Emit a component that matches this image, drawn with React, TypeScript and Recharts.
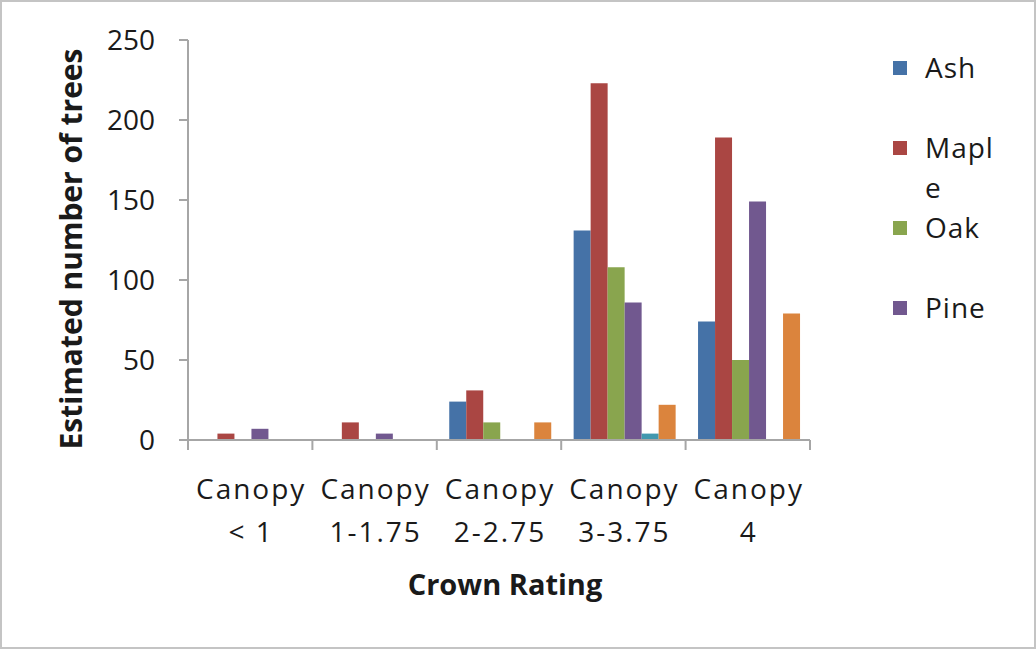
import { BarChart, Bar, XAxis, YAxis } from "recharts"

// categories and series values
const categories = ["Canopy\n< 1", "Canopy\n1-1.75", "Canopy\n2-2.75", "Canopy\n3-3.75", "Canopy\n4"]
const ash = [0, 0, 24, 131, 74]
const maple = [4, 11, 31, 223, 189]
const oak = [0, 0, 11, 108, 50]
const pine = [7, 4, 0, 86, 149]
const seriesFive = [0, 0, 0, 4, 0]
const seriesSix = [0, 0, 11, 22, 79]
const yTicks = [0, 50, 100, 150, 200, 250]

const data = categories.map((name, i) => ({
  name,
  Ash: ash[i],
  Maple: maple[i],
  Oak: oak[i],
  Pine: pine[i],
  S5: seriesFive[i],
  S6: seriesSix[i],
}))

const series = [
  { key: "Ash", color: "#4572A7" },
  { key: "Maple", color: "#AA4643" },
  { key: "Oak", color: "#89A54E" },
  { key: "Pine", color: "#71588F" },
  { key: "S5", color: "#4198AF" },
  { key: "S6", color: "#DB843D" },
]

// legend only shows the first four entries (the rest are cut off)
const legendItems = series.slice(0, 4)

const FONT = "'Open Sans', sans-serif"
const W = 1036
const H = 649
const LEFT = 188
const RIGHT = 226
const BAND = (W - LEFT - RIGHT) / categories.length

function CategoryTick(props: any) {
  const { x, y, payload, index } = props
  const lines = String(payload.value).split("\n")
  return (
    <g>
      <line x1={x - BAND / 2} x2={x - BAND / 2} y1={y} y2={y + 10} stroke="#a6a6a6" strokeWidth={2} />
      {index === categories.length - 1 && (
        <line x1={x + BAND / 2} x2={x + BAND / 2} y1={y} y2={y + 10} stroke="#a6a6a6" strokeWidth={2} />
      )}
      {lines.map((l, i) => (
        <text key={i} x={x + 1} y={y + 59 + i * 43} textAnchor="middle" fontSize={28} letterSpacing={2} fill="#1a1a1a" fontFamily={FONT}>
          {l}
        </text>
      ))}
    </g>
  )
}

export default function App() {
  return (
    <div
      style={{
        position: "absolute",
        left: 0,
        top: 0,
        width: W,
        height: H,
        boxSizing: "border-box",
        border: "2px solid #c4c4c4",
        background: "#fff",
        fontFamily: FONT,
      }}
    >
      <div style={{ position: "absolute", left: -2, top: -2 }}>
        <BarChart width={W} height={H} data={data} margin={{ top: 40, right: RIGHT, bottom: 0, left: 0 }} barCategoryGap="10%" barGap={0}>
          <XAxis
            dataKey="name"
            height={209}
            interval={0}
            tickLine={false}
            tickSize={0}
            tickMargin={0}
            axisLine={{ stroke: "#a6a6a6", strokeWidth: 2 }}
            tick={<CategoryTick />}
            label={({ viewBox }: any) => (
              <text x={viewBox.x + viewBox.width / 2 + 6} y={595} textAnchor="middle" fontSize={29} fontWeight="bold" fill="#1a1a1a" fontFamily={FONT}>
                Crown Rating
              </text>
            )}
          />
          <YAxis
            width={LEFT}
            domain={[0, 250]}
            ticks={yTicks}
            interval={0}
            tickSize={9}
            tickMargin={24}
            tickLine={{ stroke: "#a6a6a6", strokeWidth: 2 }}
            axisLine={{ stroke: "#a6a6a6", strokeWidth: 2 }}
            tick={{ fontSize: 28, fill: "#1a1a1a", fontFamily: FONT }}
            label={() => (
              <text x={82} y={249} transform="rotate(-90, 82, 249)" textAnchor="middle" fontSize={30} fontWeight="bold" fill="#1a1a1a" fontFamily={FONT}>
                Estimated number of trees
              </text>
            )}
          />
          {series.map((s) => (
            <Bar key={s.key} dataKey={s.key} fill={s.color} isAnimationActive={false} />
          ))}
        </BarChart>
      </div>
      {legendItems.map((s, i) => (
        <div key={s.key} style={{ position: "absolute", left: 891, top: 45 + i * 80, display: "flex", alignItems: "flex-start" }}>
          <div style={{ width: 14, height: 14, background: s.color, marginTop: 14 }} />
          <div style={{ marginLeft: 18, width: 80, fontSize: 28, letterSpacing: 1, lineHeight: "40px", wordBreak: "break-all", color: "#1a1a1a" }}>
            {s.key}
          </div>
        </div>
      ))}
    </div>
  )
}
